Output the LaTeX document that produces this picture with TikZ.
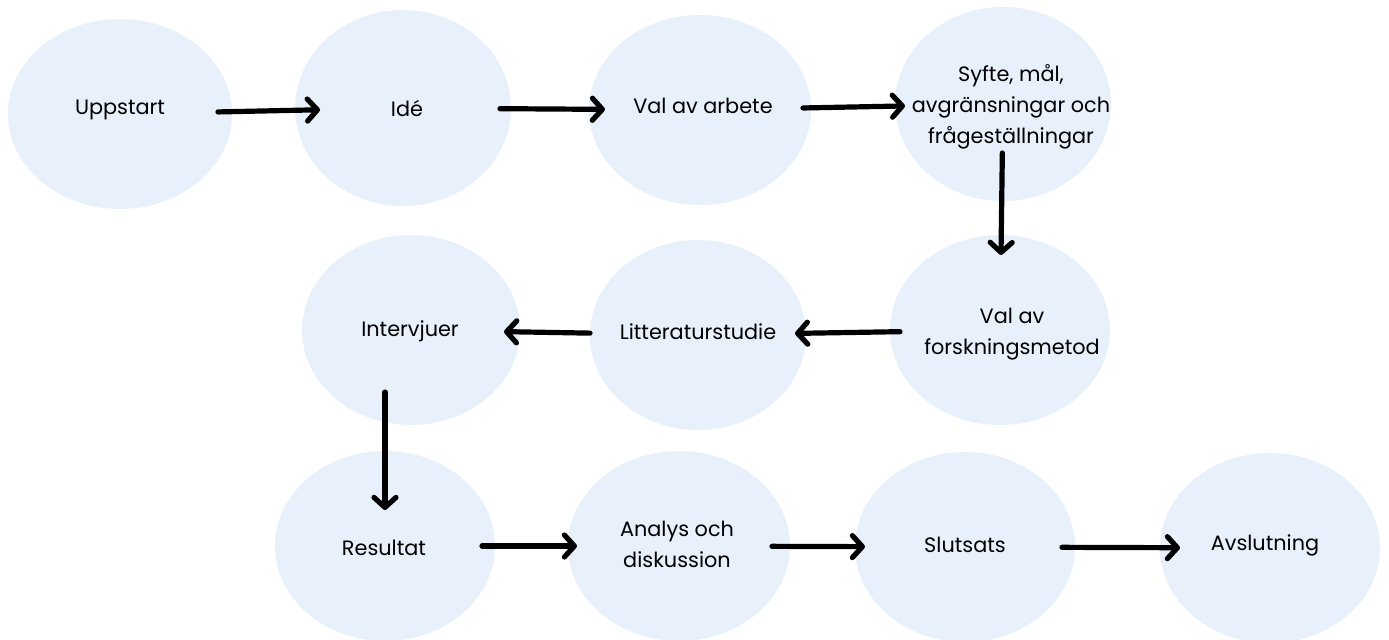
\documentclass[tikz,border=0pt]{standalone}
\usepackage{fontspec}
\setmainfont{Poppins}
\usetikzlibrary{shapes.geometric,arrows.meta}
\definecolor{blobblue}{RGB}{231,240,251}

\begin{document}
\begin{tikzpicture}[x=0.5pt, y=-0.5pt,
  blob/.style={ellipse, fill=blobblue, minimum width=108pt, minimum height=95pt, inner sep=0pt},
  txt/.style={align=center, inner sep=1pt, font=\fontsize{10.4}{15.5}\selectfont},
  flow/.style={line width=2.6pt, line cap=round,
    -{Straight Barb[length=5pt, width=11pt, line cap=round, line join=round]}}]
\useasboundingbox (0,0) rectangle (1389,639);
\clip (0,0) rectangle (1389,639);

\node[blob, minimum width=112pt] (upp) at (120,114) {};
\node[blob, minimum height=98pt] (ide) at (403,108) {};
\node[blob, minimum width=111pt] (val) at (700,110) {};
\node[blob, minimum height=97pt] (syf) at (1003,104) {};
\node[blob, minimum width=110pt] (vfm) at (1000,330) {};
\node[blob] (lit) at (698,335) {};
\node[blob, minimum width=109pt] (int) at (411,330) {};
\node[blob, minimum width=110pt] (res) at (385,546) {};
\node[blob, minimum width=111pt] (ana) at (679,546) {};
\node[blob, minimum width=110pt] (slu) at (965,547) {};
\node[blob, minimum width=110pt] (avs) at (1270,548) {};

\node[txt] (upp-t) at (120,110) {Uppstart};
\node[txt] (ide-t) at (407,108) {Idé};
\node[txt] (val-t) at (703,106) {Val av arbete};
\node[txt] (syf-t) at (1011,107) {Syfte, mål,\\avgränsningar och\\frågeställningar};
\node[txt] (vfm-t) at (1012,334) {Val av\\forskningsmetod};
\node[txt] (lit-t) at (698,332) {Litteraturstudie};
\node[txt] (int-t) at (410,331) {Intervjuer};
\node[txt] (res-t) at (384,548) {Resultat};
\node[txt] (ana-t) at (677,544) {Analys och\\diskussion};
\node[txt] (slu-t) at (965,545) {Slutsats};
\node[txt] (avs-t) at (1265,545) {Avslutning};

\draw[flow, shorten <=49pt, shorten >=41.5pt] (upp.center) -- (ide.center);
\draw[flow, shorten <=48.5pt, shorten >=47.5pt] (ide.center) -- (val.center);
\draw[flow, shorten <=51.5pt, shorten >=49pt] (val.center) -- (syf.center);
\draw[flow, shorten <=24.5pt, shorten >=37.5pt] (syf.center) -- (vfm.center);
\draw[flow, shorten <=50pt, shorten >=48.5pt] (vfm.center) -- (lit.center);
\draw[flow, shorten <=54pt, shorten >=46.5pt] (lit.center) -- (int.center);
\draw[flow, shorten <=31pt, shorten >=18pt] (res.center |- int.center) -- (res.center);
\draw[flow, shorten <=48.5pt, shorten >=51pt] (res.center) -- (ana.center);
\draw[flow, shorten <=46.5pt, shorten >=50pt] (ana.center) -- (slu.center);
\draw[flow, shorten <=48.5pt, shorten >=45pt] (slu.center) -- (avs.center);
\end{tikzpicture}
\end{document}
